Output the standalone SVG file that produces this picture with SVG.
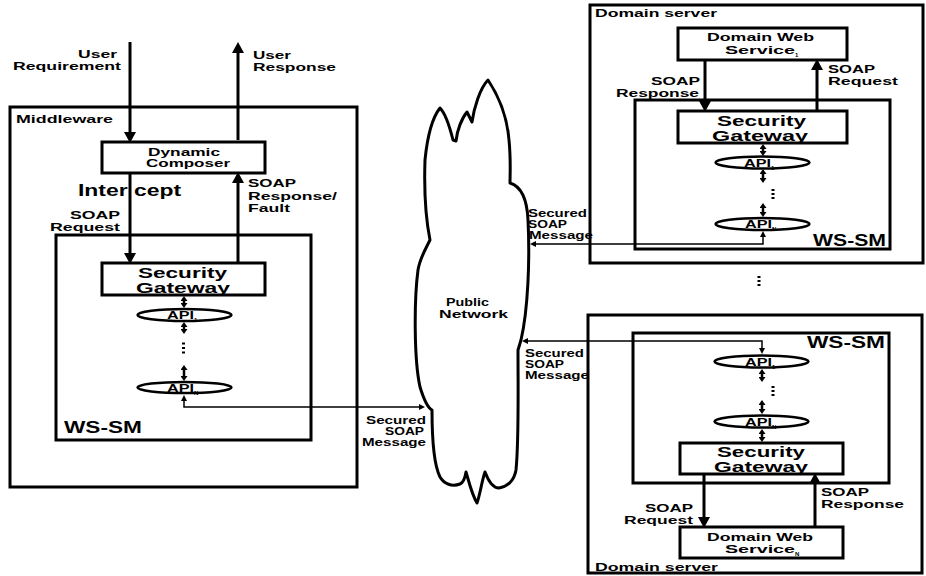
<svg xmlns="http://www.w3.org/2000/svg" width="926" height="576" viewBox="0 0 926 576">
<style>
.bx{fill:none;stroke:#000;stroke-width:3}
.nb{fill:#fff;stroke:#000;stroke-width:3}
.el{fill:#fff;stroke:#000;stroke-width:2.5}
.ar{fill:none;stroke:#000;stroke-width:3}
.sa{fill:none;stroke:#000;stroke-width:2.5}
.th{fill:none;stroke:#000;stroke-width:1.5}
.cl{fill:#fff;stroke:#000;stroke-width:3;stroke-linejoin:round}
text{font-family:"Liberation Sans",Arial,sans-serif;font-weight:bold;fill:#000}
.t{font-size:11px}
.s{font-size:10px}
.g{font-size:14.5px}
.b{font-size:16px}
.api{font-size:11.5px}
.sub{font-size:6px}
.dot{fill:#000}
</style>
<defs>
<marker id="big" markerUnits="userSpaceOnUse" markerWidth="11" markerHeight="12" viewBox="0 0 11 12" refX="4" refY="6" orient="auto"><path d="M0,0 L11,6 L0,12 z" fill="#000"/></marker>
<marker id="sm" markerUnits="userSpaceOnUse" markerWidth="5" markerHeight="7" viewBox="0 0 5 7" refX="1" refY="3.5" orient="auto-start-reverse"><path d="M0,0 L5,3.5 L0,7 z" fill="#000"/></marker>
<marker id="tn" markerUnits="userSpaceOnUse" markerWidth="6" markerHeight="6" viewBox="0 0 6 6" refX="1" refY="3" orient="auto-start-reverse"><path d="M0,0 L6,3 L0,6 z" fill="#000"/></marker>
</defs>

<g id="middleware">
<rect class="bx" x="10" y="107" width="347" height="380"/>
<text class="t" x="16" y="123" textLength="97" lengthAdjust="spacingAndGlyphs">Middleware</text>
</g>
<g id="ws-sm-left">
<rect class="bx" x="56" y="235" width="255" height="205"/>
<text class="b" x="64" y="433" textLength="78" lengthAdjust="spacingAndGlyphs">WS-SM</text>
</g>
<g id="dynamic-composer">
<rect class="nb" x="102" y="142" width="163" height="31"/>
<text class="t" x="148" y="156" textLength="72" lengthAdjust="spacingAndGlyphs">Dynamic</text>
<text class="t" x="146" y="167" textLength="84" lengthAdjust="spacingAndGlyphs">Composer</text>
</g>
<g id="security-gateway-left">
<rect class="nb" x="102" y="263" width="163" height="32"/>
<text class="g" x="138" y="278" textLength="89" lengthAdjust="spacingAndGlyphs">Security</text>
<text class="g" x="136" y="293" textLength="94" lengthAdjust="spacingAndGlyphs">Gateway</text>
</g>
<g id="api1-left">
<ellipse class="el" cx="184.5" cy="315" rx="47" ry="6"/>
<text class="api" x="167" y="319"><tspan textLength="27" lengthAdjust="spacingAndGlyphs">API</tspan><tspan class="sub" dy="3">1</tspan></text>
</g>
<g id="apiN-left">
<ellipse class="el" cx="184.5" cy="387.5" rx="47" ry="5.5"/>
<text class="api" x="167" y="391.5"><tspan textLength="27" lengthAdjust="spacingAndGlyphs">API</tspan><tspan class="sub" dy="3">N</tspan></text>
</g>

<g id="public-network">
<path class="cl" d="M488,80 C498,95 507,115 509,140 C511,160 510,175 510,183 C520,186 527,198 528,220 C530,260 528,310 521,340 L518,350 C518,390 519,440 516,470 C514,482 506,487 499,488 C492,488 488,480 485,472 C482,480 480,495 477,503 C472,495 469,482 466,472 C465,478 463,483 460,484 C452,487 444,484 440,477 C434,465 432,440 432,410 C428,408 424,400 420,387 C414,360 414,300 418,270 C420,258 425,250 430,240 C426,220 424,190 425,160 C427,140 432,118 440,108 C446,114 450,128 453,140 L456,141 C457,130 462,118 467,112 L472,122 C474,108 480,88 488,80 Z"/>
<text class="t" x="446" y="306" textLength="43" lengthAdjust="spacingAndGlyphs">Public</text>
<text class="t" x="439" y="318" textLength="69" lengthAdjust="spacingAndGlyphs">Network</text>
</g>

<g id="domain-server-1">
<rect class="bx" x="590" y="5" width="333" height="258"/>
<text class="t" x="595" y="17" textLength="122" lengthAdjust="spacingAndGlyphs">Domain server</text>
</g>
<g id="ws-sm-1">
<rect class="bx" x="635" y="100" width="255" height="149"/>
<text class="b" x="813" y="246" textLength="73" lengthAdjust="spacingAndGlyphs">WS-SM</text>
</g>
<g id="domain-web-service-1">
<rect class="nb" x="678" y="28" width="169" height="32"/>
<text class="t" x="707" y="41" textLength="107" lengthAdjust="spacingAndGlyphs">Domain Web</text>
<text class="t" x="725" y="54"><tspan textLength="70" lengthAdjust="spacingAndGlyphs">Service</tspan><tspan class="sub" dy="3">1</tspan></text>
</g>
<g id="security-gateway-1">
<rect class="nb" x="678" y="111" width="169" height="32"/>
<text class="g" x="717" y="126" textLength="89" lengthAdjust="spacingAndGlyphs">Security</text>
<text class="g" x="712" y="141" textLength="96" lengthAdjust="spacingAndGlyphs">Gateway</text>
</g>
<g id="api1-1">
<ellipse class="el" cx="762.5" cy="162.5" rx="47" ry="6"/>
<text class="api" x="744" y="167"><tspan textLength="27" lengthAdjust="spacingAndGlyphs">API</tspan><tspan class="sub" dy="3">1</tspan></text>
</g>
<g id="apiN-1">
<ellipse class="el" cx="762.5" cy="224" rx="47" ry="6"/>
<text class="api" x="745" y="228"><tspan textLength="27" lengthAdjust="spacingAndGlyphs">API</tspan><tspan class="sub" dy="3">N</tspan></text>
</g>

<g id="domain-server-N">
<rect class="bx" x="588" y="315" width="334" height="258"/>
<text class="t" x="595" y="571" textLength="123" lengthAdjust="spacingAndGlyphs">Domain server</text>
</g>
<g id="ws-sm-N">
<rect class="bx" x="633" y="333" width="256" height="150"/>
<text class="b" x="807" y="348" textLength="78" lengthAdjust="spacingAndGlyphs">WS-SM</text>
</g>
<g id="api1-N">
<ellipse class="el" cx="761.5" cy="361.5" rx="47" ry="6"/>
<text class="api" x="745" y="366"><tspan textLength="27" lengthAdjust="spacingAndGlyphs">API</tspan><tspan class="sub" dy="3">1</tspan></text>
</g>
<g id="apiN-N">
<ellipse class="el" cx="761.5" cy="421.5" rx="47" ry="6"/>
<text class="api" x="745" y="426"><tspan textLength="27" lengthAdjust="spacingAndGlyphs">API</tspan><tspan class="sub" dy="3">N</tspan></text>
</g>
<g id="security-gateway-N">
<rect class="nb" x="680" y="443" width="163" height="31"/>
<text class="g" x="717" y="457" textLength="88" lengthAdjust="spacingAndGlyphs">Security</text>
<text class="g" x="714" y="472" textLength="94" lengthAdjust="spacingAndGlyphs">Gateway</text>
</g>
<g id="domain-web-service-N">
<rect class="nb" x="680" y="527" width="163" height="31"/>
<text class="t" x="707" y="541" textLength="106" lengthAdjust="spacingAndGlyphs">Domain Web</text>
<text class="t" x="725" y="553"><tspan textLength="70" lengthAdjust="spacingAndGlyphs">Service</tspan><tspan class="sub" dy="3">N</tspan></text>
</g>

<g id="connectors">
<path class="ar" d="M130,42 L130,136" marker-end="url(#big)"/>
<path class="ar" d="M238,140 L238,49" marker-end="url(#big)"/>
<path class="ar" d="M130,173 L130,257" marker-end="url(#big)"/>
<path class="ar" d="M238,263 L238,179" marker-end="url(#big)"/>
<path class="ar" d="M705,60 L705,105" marker-end="url(#big)"/>
<path class="ar" d="M817,111 L817,66" marker-end="url(#big)"/>
<path class="ar" d="M704,474 L704,521" marker-end="url(#big)"/>
<path class="ar" d="M815,527 L815,480" marker-end="url(#big)"/>
<path class="sa" d="M184,300 L184,304" marker-start="url(#sm)" marker-end="url(#sm)"/>
<path class="sa" d="M184,326 L184,330" marker-start="url(#sm)" marker-end="url(#sm)"/>
<path class="sa" d="M184,369 L184,377" marker-start="url(#sm)" marker-end="url(#sm)"/>
<path class="sa" d="M763,148 L763,152" marker-start="url(#sm)" marker-end="url(#sm)"/>
<path class="sa" d="M763,173 L763,179" marker-start="url(#sm)" marker-end="url(#sm)"/>
<path class="sa" d="M763,207 L763,213" marker-start="url(#sm)" marker-end="url(#sm)"/>
<path class="sa" d="M762,373 L762,378" marker-start="url(#sm)" marker-end="url(#sm)"/>
<path class="sa" d="M762,404 L762,410" marker-start="url(#sm)" marker-end="url(#sm)"/>
<path class="sa" d="M762,433 L762,438" marker-start="url(#sm)" marker-end="url(#sm)"/>
<path class="th" d="M184,400 L184,407 L420,407" marker-start="url(#tn)" marker-end="url(#tn)"/>
<path class="th" d="M763,236 L763,244 L535,244" marker-start="url(#tn)" marker-end="url(#tn)"/>
<path class="th" d="M762,349 L762,341 L527,341" marker-start="url(#tn)" marker-end="url(#tn)"/>
<rect class="dot" x="182" y="342.5" width="3" height="2"/>
<rect class="dot" x="182" y="347" width="3" height="2"/>
<rect class="dot" x="182" y="351.5" width="3" height="2"/>
<rect class="dot" x="771.5" y="189" width="3" height="2"/>
<rect class="dot" x="771.5" y="193" width="3" height="2"/>
<rect class="dot" x="771.5" y="197" width="3" height="2"/>
<rect class="dot" x="771.5" y="386" width="3" height="2"/>
<rect class="dot" x="771.5" y="390" width="3" height="2"/>
<rect class="dot" x="771.5" y="394" width="3" height="2"/>
<rect class="dot" x="757.5" y="276" width="3" height="2"/>
<rect class="dot" x="757.5" y="280" width="3" height="2"/>
<rect class="dot" x="757.5" y="284" width="3" height="2"/>
</g>

<g id="labels">
<text class="t" x="78" y="58" textLength="39" lengthAdjust="spacingAndGlyphs">User</text>
<text class="t" x="13" y="70" textLength="108" lengthAdjust="spacingAndGlyphs">Requirement</text>
<text class="t" x="253" y="59" textLength="38" lengthAdjust="spacingAndGlyphs">User</text>
<text class="t" x="253" y="71" textLength="83" lengthAdjust="spacingAndGlyphs">Response</text>
<text class="b" x="78" y="196" textLength="103" lengthAdjust="spacingAndGlyphs">Inter cept</text>
<text class="t" x="70" y="219" textLength="50" lengthAdjust="spacingAndGlyphs">SOAP</text>
<text class="t" x="50" y="231" textLength="70" lengthAdjust="spacingAndGlyphs">Request</text>
<text class="t" x="248" y="187" textLength="48" lengthAdjust="spacingAndGlyphs">SOAP</text>
<text class="t" x="248" y="200" textLength="89" lengthAdjust="spacingAndGlyphs">Response/</text>
<text class="t" x="248" y="212" textLength="42" lengthAdjust="spacingAndGlyphs">Fault</text>
<text class="s" x="426" y="424" text-anchor="end" textLength="60" lengthAdjust="spacingAndGlyphs">Secured</text>
<text class="s" x="424" y="435" text-anchor="end" textLength="39" lengthAdjust="spacingAndGlyphs">SOAP</text>
<text class="s" x="426" y="446" text-anchor="end" textLength="64" lengthAdjust="spacingAndGlyphs">Message</text>
<text class="s" x="528" y="217" textLength="59" lengthAdjust="spacingAndGlyphs">Secured</text>
<text class="s" x="528" y="228" textLength="39" lengthAdjust="spacingAndGlyphs">SOAP</text>
<text class="s" x="529" y="239" textLength="64" lengthAdjust="spacingAndGlyphs">Message</text>
<text class="s" x="525" y="357" textLength="59" lengthAdjust="spacingAndGlyphs">Secured</text>
<text class="s" x="525" y="368" textLength="39" lengthAdjust="spacingAndGlyphs">SOAP</text>
<text class="s" x="525" y="379" textLength="64" lengthAdjust="spacingAndGlyphs">Message</text>
<text class="t" x="651" y="85" textLength="49" lengthAdjust="spacingAndGlyphs">SOAP</text>
<text class="t" x="616" y="97" textLength="83" lengthAdjust="spacingAndGlyphs">Response</text>
<text class="t" x="828" y="73" textLength="47" lengthAdjust="spacingAndGlyphs">SOAP</text>
<text class="t" x="828" y="85" textLength="70" lengthAdjust="spacingAndGlyphs">Request</text>
<text class="t" x="645" y="512" textLength="48" lengthAdjust="spacingAndGlyphs">SOAP</text>
<text class="t" x="624" y="524" textLength="69" lengthAdjust="spacingAndGlyphs">Request</text>
<text class="t" x="821" y="496" textLength="48" lengthAdjust="spacingAndGlyphs">SOAP</text>
<text class="t" x="821" y="508" textLength="83" lengthAdjust="spacingAndGlyphs">Response</text>
</g>
</svg>
